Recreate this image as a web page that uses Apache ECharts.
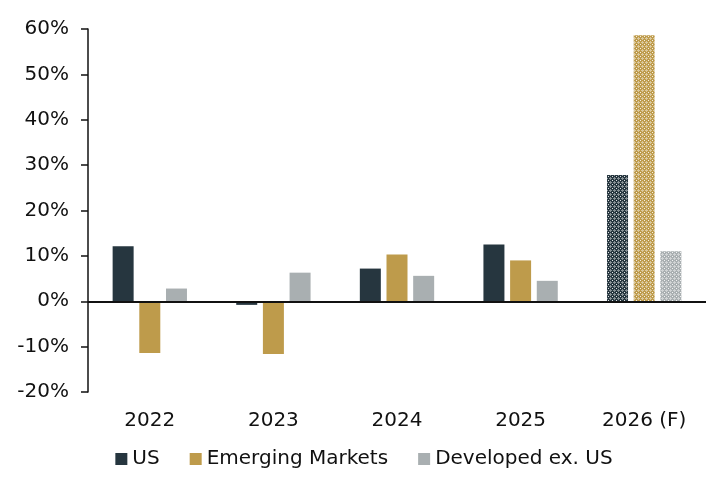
<!DOCTYPE html>
<html>
<head>
<meta charset="utf-8">
<script src="https://cdn.jsdelivr.net/npm/echarts@6/dist/echarts.min.js"></script>
<style>
  html, body { margin: 0; padding: 0; background: #fff; }
  #chart { width: 728px; height: 482px; }
</style>
</head>
<body>
<div id="chart"></div>
<script>
// categories and values (percent)
const years = ['2022', '2023', '2024', '2025', '2026 (F)'];
const usVals = [12.1, -0.8, 7.2, 12.5, 27.8];
const emVals = [-11.4, -11.6, 10.3, 9.0, 58.6];
const devVals = [2.8, 6.3, 5.6, 4.5, 11.0];
const forecastIndex = 4;

const colors = { us: '#26363f', em: '#be9b4b', dev: '#a9afb1' };

// hatched fill for the forecast year
function makePattern(base) {
    const c = document.createElement('canvas');
    c.width = 4; c.height = 4;
    const ctx = c.getContext('2d');
    ctx.fillStyle = base;
    ctx.fillRect(0, 0, 4, 4);
    ctx.fillStyle = 'rgba(255,255,255,0.45)';
    ctx.fillRect(2, 1, 1, 1);
    ctx.fillRect(1, 2, 3, 1);
    ctx.fillRect(2, 3, 1, 1);
    ctx.fillStyle = 'rgba(255,255,255,0.85)';
    ctx.fillRect(0, 0, 1, 1);
    return { image: c, repeat: 'repeat' };
}

function buildData(vals, color) {
    return vals.map((v, i) => i === forecastIndex
        ? { value: v, itemStyle: { color: makePattern(color) } }
        : v);
}

const font = 'DejaVu Sans, Verdana, sans-serif';

const chart = echarts.init(document.getElementById('chart'));
chart.setOption({
    animation: false,
    backgroundColor: '#fff',
    grid: { left: 88, right: 22, top: 29, bottom: 90 },
    legend: {
        bottom: 8,
        left: 'center',
        icon: 'rect',
        itemWidth: 12,
        itemHeight: 12,
        itemGap: 30,
        textStyle: { fontFamily: font, fontSize: 20, color: '#111' },
        data: ['US', 'Emerging Markets', 'Developed ex. US']
    },
    xAxis: {
        type: 'category',
        data: years,
        axisLine: { show: false },
        axisTick: { show: false },
        axisLabel: { margin: 19, fontFamily: font, fontSize: 20, color: '#111' }
    },
    yAxis: {
        type: 'value',
        min: -20,
        max: 60,
        interval: 10,
        axisLine: { show: true, lineStyle: { color: '#111', width: 1.5 } },
        axisTick: { show: true, length: 7, lineStyle: { color: '#111', width: 1.5 } },
        splitLine: { show: false },
        axisLabel: {
            margin: 19,
            fontFamily: font,
            fontSize: 20,
            color: '#111',
            formatter: v => v + '%'
        }
    },
    series: [
        {
            name: 'US',
            type: 'bar',
            barWidth: 21,
            barGap: '27%',
            itemStyle: { color: colors.us },
            data: buildData(usVals, colors.us),
            markLine: {
                silent: true,
                symbol: 'none',
                label: { show: false },
                lineStyle: { color: '#111', width: 2, type: 'solid' },
                data: [{ yAxis: 0 }],
                z: 5
            }
        },
        {
            name: 'Emerging Markets',
            type: 'bar',
            barWidth: 21,
            barGap: '27%',
            itemStyle: { color: colors.em },
            data: buildData(emVals, colors.em)
        },
        {
            name: 'Developed ex. US',
            type: 'bar',
            barWidth: 21,
            barGap: '27%',
            itemStyle: { color: colors.dev },
            data: buildData(devVals, colors.dev)
        }
    ]
});
</script>
</body>
</html>
